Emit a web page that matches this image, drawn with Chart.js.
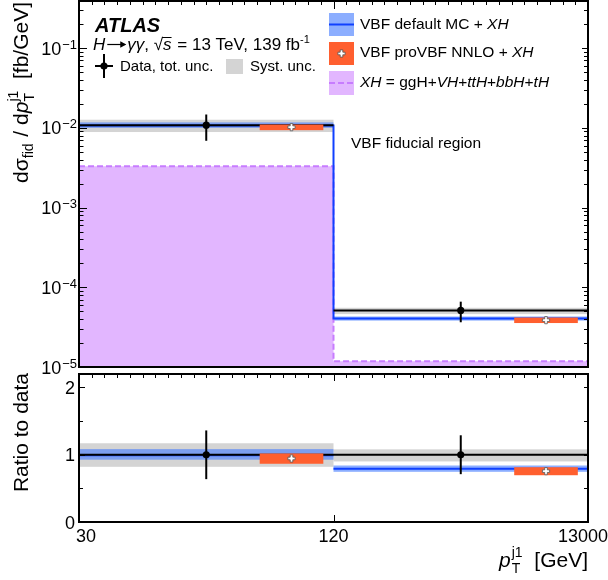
<!DOCTYPE html>
<html><head><meta charset="utf-8">
<script src="https://cdn.jsdelivr.net/npm/chart.js@4/dist/chart.umd.min.js"></script>
<style>
html,body{margin:0;padding:0;background:#fff;}
#wrap{position:relative;width:608px;height:580px;overflow:hidden;}
canvas{position:absolute;left:0;top:0;}
</style></head><body>
<div id="wrap"><canvas id="topc" width="608" height="580"></canvas><canvas id="ratc" width="608" height="580"></canvas></div>
<script>
// ---------- data ----------
const binEdgeLabels   = ['30', '120', '13000'];
const dataCentral     = [1.08e-2, 5.12e-5];
const dataTotDown     = [6.88e-3, 3.64e-5];
const dataTotUp       = [1.47e-2, 6.60e-5];
const dataSystDown    = [8.86e-3, 4.61e-5];
const dataSystUp      = [1.264e-2, 5.53e-5];
const vbfDefault      = [1.07e-2, 4.06e-5];
const vbfDefaultDown  = [1.00e-2, 3.82e-5];
const vbfDefaultUp    = [1.17e-2, 4.30e-5];
const vbfProVBF       = [1.02e-2, 3.87e-5];
const vbfProVBFDown   = [9.35e-3, 3.56e-5];
const vbfProVBFUp     = [1.10e-2, 4.17e-5];
const xhOnly          = [3.29e-3, 1.18e-5];
const logTickExponents = [-5, -4, -3, -2, -1];
const ratioTicks      = [0, 1, 2];
const ratioMinorTicks = [0.5, 1.5];

// ---------- style ----------
const NB = binEdgeLabels.length - 1;
const FAM = '"Liberation Sans", Arial, Helvetica, sans-serif';
const F = (size, style) => `${style || ''} ${size}px ${FAM}`;
const GREY = '#d4d4d4';
const BLUE_BAND = 'rgba(70,125,255,0.62)';
const BLUE_LINE = '#1040ff';
const ORANGE = '#ff5f2f';
const PURPLE_FILL = '#e2b6ff';
const PURPLE_LINE = '#c77cff';
const BOX_FROM = 0.71, BOX_TO = 0.96, BOX_MARK = 0.835;

function stepPts(vals, joined) {
  const pts = [];
  vals.forEach((v, i) => {
    if (i > 0 && !joined) pts.push({x: i, y: null});
    pts.push({x: i, y: v}, {x: i + 1, y: v});
  });
  return pts;
}
function rect(ctx, xs, ys, x0, x1, lo, hi, color) {
  const L = xs.getPixelForValue(x0), R = xs.getPixelForValue(x1);
  const T = ys.getPixelForValue(hi), B = ys.getPixelForValue(lo);
  ctx.fillStyle = color; ctx.fillRect(L, T, R - L, B - T);
}
function crossMarker(ctx, cx, cy) {
  const a = 3.6, b = 1.3;
  ctx.beginPath();
  ctx.moveTo(cx-b, cy-a); ctx.lineTo(cx+b, cy-a); ctx.lineTo(cx+b, cy-b); ctx.lineTo(cx+a, cy-b);
  ctx.lineTo(cx+a, cy+b); ctx.lineTo(cx+b, cy+b); ctx.lineTo(cx+b, cy+a); ctx.lineTo(cx-b, cy+a);
  ctx.lineTo(cx-b, cy+b); ctx.lineTo(cx-a, cy+b); ctx.lineTo(cx-a, cy-b); ctx.lineTo(cx-b, cy-b);
  ctx.closePath();
  ctx.fillStyle = '#fff'; ctx.fill();
  ctx.strokeStyle = '#555'; ctx.lineWidth = 0.8; ctx.stroke();
}
function dataPoint(ctx, px, pyC, pyLo, pyHi) {
  ctx.strokeStyle = '#000'; ctx.lineWidth = 2;
  ctx.beginPath(); ctx.moveTo(px, pyHi); ctx.lineTo(px, pyLo); ctx.stroke();
  ctx.fillStyle = '#000';
  ctx.beginPath(); ctx.arc(px, pyC, 3.6, 0, Math.PI * 2); ctx.fill();
}
// rich text: segs {t,f,dy,gap} or {stack:true, sub, sup, f, subDy, supDy}
function rich(ctx, x, y, segs, align) {
  const widths = segs.map(s => {
    ctx.font = s.f;
    const w = s.stack ? Math.max(ctx.measureText(s.sub).width, ctx.measureText(s.sup).width)
                      : ctx.measureText(s.t).width;
    return w + (s.gap || 0);
  });
  const total = widths.reduce((p, c) => p + c, 0);
  let cx = align === 'right' ? x - total : align === 'center' ? x - total / 2 : x;
  ctx.textAlign = 'left'; ctx.textBaseline = 'alphabetic';
  const pos = [];
  segs.forEach((s, i) => {
    ctx.font = s.f;
    pos.push(cx);
    if (s.stack) {
      ctx.fillText(s.sub, cx, y + s.subDy);
      ctx.fillText(s.sup, cx, y + s.supDy);
    } else {
      ctx.fillText(s.t, cx, y + (s.dy || 0));
    }
    cx += widths[i];
  });
  pos.push(cx);
  return pos;
}

// ---------- top panel ----------
const topDecor = {
  id: 'topDecor',
  beforeDatasetsDraw(chart) {
    const {ctx, scales: {x, y}} = chart;
    ctx.save();
    for (let i = 0; i < NB; i++) rect(ctx, x, y, i, i + 1, dataSystDown[i], dataSystUp[i], GREY);
    for (let i = 0; i < NB; i++) rect(ctx, x, y, i, i + 1, vbfDefaultDown[i], vbfDefaultUp[i], BLUE_BAND);
    ctx.restore();
  },
  afterDatasetsDraw(chart) {
    const {ctx, scales: {x, y}} = chart;
    ctx.save();
    for (let i = 0; i < NB; i++) {
      rect(ctx, x, y, i + BOX_FROM, i + BOX_TO, vbfProVBFDown[i], vbfProVBFUp[i], ORANGE);
      crossMarker(ctx, x.getPixelForValue(i + BOX_MARK), y.getPixelForValue(vbfProVBF[i]));
      dataPoint(ctx, x.getPixelForValue(i + 0.5), y.getPixelForValue(dataCentral[i]),
                y.getPixelForValue(dataTotDown[i]), y.getPixelForValue(dataTotUp[i]));
    }
    ctx.restore();
  },
  afterDraw(chart) {
    const {ctx, chartArea: a, scales: {x, y}} = chart;
    ctx.save();
    // ticks
    ctx.strokeStyle = '#000'; ctx.lineWidth = 1;
    ctx.beginPath();
    logTickExponents.forEach(e => {
      for (let k = 1; k <= 9; k++) {
        const v = k * Math.pow(10, e);
        if (v > y.max) break;
        const py = Math.round(y.getPixelForValue(v)) + 0.5;
        ctx.moveTo(a.left, py); ctx.lineTo(a.left + (k === 1 ? 8 : 4.5), py);
        ctx.moveTo(a.right, py); ctx.lineTo(a.right - (k === 1 ? 6 : 4), py);
      }
    });
    for (let t = 1; t < NB * 20; t++) {
      const px = Math.round(x.getPixelForValue(t * 0.05)) + 0.5;
      ctx.moveTo(px, a.top); ctx.lineTo(px, a.top + (t % 20 === 0 ? 8 : 4));
    }
    ctx.stroke();
    ctx.lineWidth = 2;
    ctx.strokeRect(a.left, a.top, a.right - a.left, a.bottom - a.top);
    // y tick labels
    ctx.fillStyle = '#000';
    logTickExponents.forEach(e => {
      const py = y.getPixelForValue(Math.pow(10, e));
      ctx.textAlign = 'right'; ctx.textBaseline = 'alphabetic';
      ctx.font = F(13);
      const sup = '\u2212' + Math.abs(e);
      const sw = ctx.measureText(sup).width;
      ctx.fillText(sup, a.left - 2, py + 0.5);
      ctx.font = F(18);
      ctx.fillText('10', a.left - 3 - sw, py + 6.5);
    });
    // y title
    ctx.save();
    ctx.translate(28, 2);
    ctx.rotate(-Math.PI / 2);
    rich(ctx, 0, 0, [
      {t: 'd\u03C3', f: F(21)},
      {t: 'fid', f: F(14), dy: 5, gap: 1},
      {t: ' / d', f: F(21)},
      {t: 'p', f: F(21, 'italic')},
      {stack: true, sub: 'T', sup: 'j1', f: F(14), subDy: 6, supDy: -10},
      {t: '  [fb/GeV]', f: F(21)}
    ], 'right');
    ctx.restore();
    // ATLAS labels
    ctx.font = F(20, 'italic bold'); ctx.textAlign = 'left';
    ctx.fillText('ATLAS', 95, 32);
    const pos = rich(ctx, 93, 50, [
      {t: 'H', f: F(17, 'italic'), gap: 1},
      {t: '', f: F(17), gap: 21},
      {t: '\u03B3\u03B3', f: F(17, 'italic')},
      {t: ', ', f: F(17)},
      {t: '\u221A', f: F(17)},
      {t: 's', f: F(17, 'italic'), gap: 1},
      {t: ' = 13 TeV, 139 fb', f: F(17)},
      {t: '-1', f: F(11), dy: -7}
    ], 'left');
    ctx.lineWidth = 1; ctx.strokeStyle = '#000';
    ctx.beginPath(); ctx.moveTo(pos[5] - 1, 37.5); ctx.lineTo(pos[6] - 1, 37.5); ctx.stroke();
    // arrow
    const ax0 = pos[1] + 1, ax1 = pos[2] - 2, ay = 44.5;
    ctx.lineWidth = 1.2;
    ctx.beginPath(); ctx.moveTo(ax0, ay); ctx.lineTo(ax1, ay); ctx.stroke();
    ctx.beginPath(); ctx.moveTo(ax1 + 1, ay); ctx.lineTo(ax1 - 5, ay - 3.2); ctx.lineTo(ax1 - 5, ay + 3.2); ctx.closePath(); ctx.fill();
    // data legend
    ctx.lineWidth = 2;
    ctx.beginPath(); ctx.moveTo(95, 66); ctx.lineTo(113, 66); ctx.moveTo(104, 54); ctx.lineTo(104, 78); ctx.stroke();
    ctx.beginPath(); ctx.arc(104, 66, 3.6, 0, Math.PI * 2); ctx.fill();
    ctx.font = F(15);
    ctx.fillText('Data, tot. unc.', 120, 71);
    ctx.fillStyle = GREY; ctx.fillRect(226, 59, 17, 15);
    ctx.fillStyle = '#000';
    ctx.fillText('Syst. unc.', 250, 71);
    // right legend
    ctx.fillStyle = BLUE_BAND; ctx.fillRect(329, 13, 25, 23);
    ctx.strokeStyle = BLUE_LINE; ctx.lineWidth = 2;
    ctx.beginPath(); ctx.moveTo(329, 24.5); ctx.lineTo(354, 24.5); ctx.stroke();
    ctx.fillStyle = ORANGE; ctx.fillRect(329, 42, 25, 23);
    crossMarker(ctx, 341.5, 53.5);
    ctx.fillStyle = PURPLE_FILL; ctx.fillRect(329, 71, 25, 24);
    ctx.strokeStyle = PURPLE_LINE; ctx.lineWidth = 2; ctx.setLineDash([6, 3]);
    ctx.beginPath(); ctx.moveTo(329, 83); ctx.lineTo(354, 83); ctx.stroke();
    ctx.setLineDash([]);
    ctx.fillStyle = '#000';
    rich(ctx, 360, 28.5, [{t: 'VBF default MC + ', f: F(15.5)}, {t: 'XH', f: F(15.5, 'italic')}], 'left');
    rich(ctx, 360, 57, [{t: 'VBF proVBF NNLO + ', f: F(15.5)}, {t: 'XH', f: F(15.5, 'italic')}], 'left');
    rich(ctx, 360, 86.5, [
      {t: 'XH', f: F(15.5, 'italic')}, {t: ' = ggH+', f: F(15.5)}, {t: 'VH', f: F(15.5, 'italic')},
      {t: '+', f: F(15.5)}, {t: 'ttH', f: F(15.5, 'italic')}, {t: '+', f: F(15.5)},
      {t: 'bbH', f: F(15.5, 'italic')}, {t: '+', f: F(15.5)}, {t: 'tH', f: F(15.5, 'italic')}
    ], 'left');
    ctx.font = F(15.5);
    ctx.fillText('VBF fiducial region', 351, 148);
    ctx.restore();
  }
};

new Chart(document.getElementById('topc'), {
  type: 'line',
  data: {
    datasets: [
      {data: stepPts(dataCentral, false), borderColor: '#000', borderWidth: 2, pointRadius: 0, fill: false, order: 1, spanGaps: false},
      {data: stepPts(vbfDefault, true), borderColor: BLUE_LINE, borderWidth: 2, pointRadius: 0, fill: false, order: 2},
      {data: stepPts(xhOnly, true), borderColor: PURPLE_LINE, backgroundColor: PURPLE_FILL, borderWidth: 2,
       borderDash: [6, 3], pointRadius: 0, fill: 'start', order: 3}
    ]
  },
  options: {
    responsive: false, animation: false, devicePixelRatio: 1, events: [],
    layout: {padding: {left: 79, right: 20, top: 1, bottom: 213}},
    elements: {line: {tension: 0}},
    plugins: {legend: {display: false}, tooltip: {enabled: false}},
    scales: {
      x: {type: 'linear', min: 0, max: NB, display: false},
      y: {type: 'logarithmic', min: 1e-5, max: 0.39, display: false}
    }
  },
  plugins: [topDecor]
});

// ---------- ratio panel ----------
const r = (arr, i) => arr[i] / dataCentral[i];
const ratioDecor = {
  id: 'ratioDecor',
  beforeDatasetsDraw(chart) {
    const {ctx, scales: {x, y}} = chart;
    ctx.save();
    for (let i = 0; i < NB; i++) rect(ctx, x, y, i, i + 1, r(dataSystDown, i), r(dataSystUp, i), GREY);
    for (let i = 0; i < NB; i++) rect(ctx, x, y, i, i + 1, r(vbfDefaultDown, i), r(vbfDefaultUp, i), BLUE_BAND);
    ctx.restore();
  },
  afterDatasetsDraw(chart) {
    const {ctx, scales: {x, y}} = chart;
    ctx.save();
    for (let i = 0; i < NB; i++) {
      rect(ctx, x, y, i + BOX_FROM, i + BOX_TO, r(vbfProVBFDown, i), r(vbfProVBFUp, i), ORANGE);
      crossMarker(ctx, x.getPixelForValue(i + BOX_MARK), y.getPixelForValue(r(vbfProVBF, i)));
      dataPoint(ctx, x.getPixelForValue(i + 0.5), y.getPixelForValue(1),
                y.getPixelForValue(r(dataTotDown, i)), y.getPixelForValue(r(dataTotUp, i)));
    }
    ctx.restore();
  },
  afterDraw(chart) {
    const {ctx, chartArea: a, scales: {x, y}} = chart;
    ctx.save();
    ctx.strokeStyle = '#000'; ctx.lineWidth = 1;
    ctx.beginPath();
    ratioTicks.concat(ratioMinorTicks).forEach(v => {
      const py = Math.round(y.getPixelForValue(v)) + 0.5;
      const major = ratioTicks.includes(v);
      ctx.moveTo(a.left, py); ctx.lineTo(a.left + (major ? 6 : 4), py);
      ctx.moveTo(a.right, py); ctx.lineTo(a.right - 4, py);
    });
    for (let t = 1; t < NB * 20; t++) {
      const px = Math.round(x.getPixelForValue(t * 0.05)) + 0.5;
      ctx.moveTo(px, a.top); ctx.lineTo(px, a.top + (t % 20 === 0 ? 7 : 4));
      if (t % 20 === 0) { ctx.moveTo(px, a.bottom); ctx.lineTo(px, a.bottom - 7); }
    }
    ctx.stroke();
    ctx.lineWidth = 2;
    ctx.strokeRect(a.left, a.top, a.right - a.left, a.bottom - a.top);
    ctx.fillStyle = '#000';
    ctx.font = F(18); ctx.textAlign = 'right'; ctx.textBaseline = 'alphabetic';
    ratioTicks.forEach(v => ctx.fillText(String(v), a.left - 4, y.getPixelForValue(v) + 6.5));
    // x tick labels
    ctx.textAlign = 'center';
    binEdgeLabels.forEach((lab, i) => {
      let px = x.getPixelForValue(i);
      if (i === 0) px += 7;
      if (i === NB) px -= 5;
      ctx.fillText(lab, px, a.bottom + 19.5);
    });
    // titles
    ctx.save();
    ctx.translate(28, a.top - 1);
    ctx.rotate(-Math.PI / 2);
    ctx.font = F(21); ctx.textAlign = 'right';
    ctx.fillText('Ratio to data', 0, 0);
    ctx.restore();
    rich(ctx, a.right, 567, [
      {t: 'p', f: F(21, 'italic'), gap: 1},
      {stack: true, sub: 'T', sup: 'j1', f: F(14), subDy: 6, supDy: -10},
      {t: '  [GeV]', f: F(21)}
    ], 'right');
    ctx.restore();
  }
};

new Chart(document.getElementById('ratc'), {
  type: 'line',
  data: {
    datasets: [
      {data: stepPts(dataCentral.map((v, i) => r(dataCentral, i)), true), borderColor: '#000', borderWidth: 2, pointRadius: 0, fill: false, order: 1},
      {data: stepPts(vbfDefault.map((v, i) => r(vbfDefault, i)), false), borderColor: BLUE_LINE, borderWidth: 2, pointRadius: 0, fill: false, order: 2, spanGaps: false}
    ]
  },
  options: {
    responsive: false, animation: false, devicePixelRatio: 1, events: [],
    layout: {padding: {left: 79, right: 20, top: 374, bottom: 58}},
    elements: {line: {tension: 0}},
    plugins: {legend: {display: false}, tooltip: {enabled: false}},
    scales: {
      x: {type: 'linear', min: 0, max: NB, display: false},
      y: {type: 'linear', min: 0, max: 2.2, display: false}
    }
  },
  plugins: [ratioDecor]
});
</script>
</body></html>
